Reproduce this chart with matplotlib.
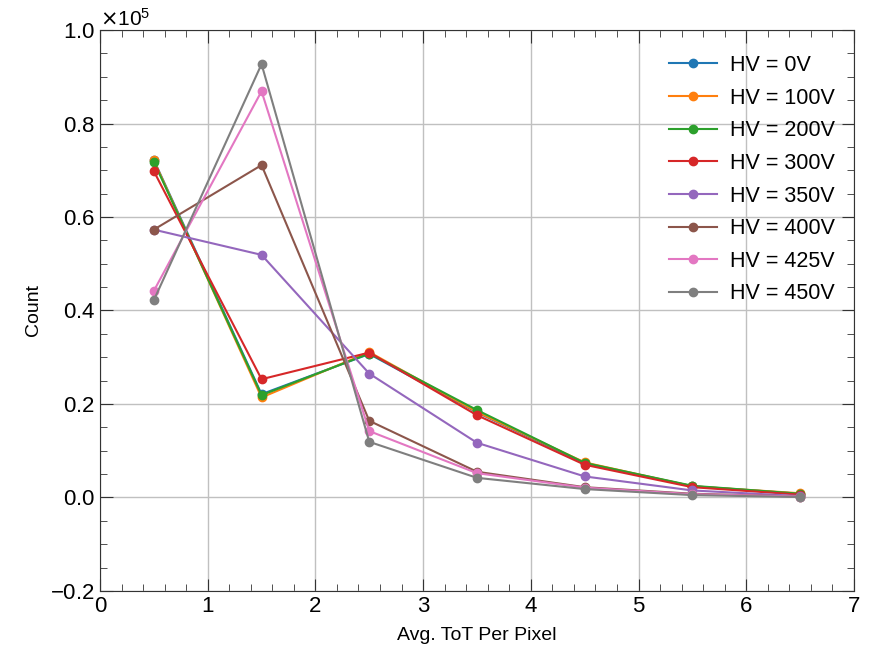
import numpy as np
from matplotlib import pyplot as plt
from matplotlib.ticker import MultipleLocator, ScalarFormatter

plt.rcParams['font.family'] = ['Liberation Sans', 'DejaVu Sans']

# avg ToT per pixel bins, count per HV setting
tot = [0.5, 1.5, 2.5, 3.5, 4.5, 5.5, 6.5]
hv_labels = ['HV = 0V', 'HV = 100V', 'HV = 200V', 'HV = 300V',
             'HV = 350V', 'HV = 400V', 'HV = 425V', 'HV = 450V']
hv0   = [72200, 22100, 30700, 18200, 7300, 2400, 800]
hv100 = [72100, 21400, 31100, 18300, 7500, 2400, 900]
hv200 = [71800, 21900, 30800, 18700, 7400, 2500, 800]
hv300 = [69800, 25300, 31000, 17600, 7000, 2200, 600]
hv350 = [57300, 51900, 26500, 11700, 4500, 1500, 300]
hv400 = [57300, 71100, 16400, 5500, 2200, 800, 200]
hv425 = [44200, 86900, 14200, 5200, 2100, 700, 200]
hv450 = [42200, 92700, 11900, 4200, 1800, 500, 100]
series = [hv0, hv100, hv200, hv300, hv350, hv400, hv425, hv450]

fig = plt.figure(figsize=(8.74, 6.47), dpi=100)
ax = fig.add_axes([0.1144, 0.0866, 0.8627, 0.867])

for i, (lab, ys) in enumerate(zip(hv_labels, series)):
    ax.plot(tot, ys, marker='o', markersize=6, linewidth=1.5, color='C%d' % i, label=lab)

ax.set_xlim(0, 7)
ax.set_ylim(-20000, 100000)
ax.xaxis.set_major_locator(MultipleLocator(1))
ax.xaxis.set_minor_locator(MultipleLocator(0.2))
ax.yaxis.set_major_locator(MultipleLocator(20000))
ax.yaxis.set_minor_locator(MultipleLocator(5000))
fmt = ScalarFormatter(useMathText=True)
fmt.set_powerlimits((5, 5))
ax.yaxis.set_major_formatter(fmt)
ax.yaxis.get_offset_text().set_fontsize(15)

ax.tick_params(which='both', direction='in', top=True, right=True, colors='#333333', labelcolor='black')
ax.tick_params(which='major', length=9, labelsize=16)
ax.tick_params(which='minor', length=5)
for s in ax.spines.values():
    s.set_color('#333333')

ax.grid(True, color='#c0c0c0', linewidth=1)
ax.set_xlabel('Avg. ToT Per Pixel', fontsize=14, labelpad=7)
ax.set_ylabel('Count', fontsize=14, labelpad=6)
ax.legend(loc='upper right', frameon=False, fontsize=15.5, handlelength=2.2,
          handletextpad=0.6, labelspacing=0.54, bbox_to_anchor=(1.0, 0.99))

plt.savefig('out.png', dpi=100)
